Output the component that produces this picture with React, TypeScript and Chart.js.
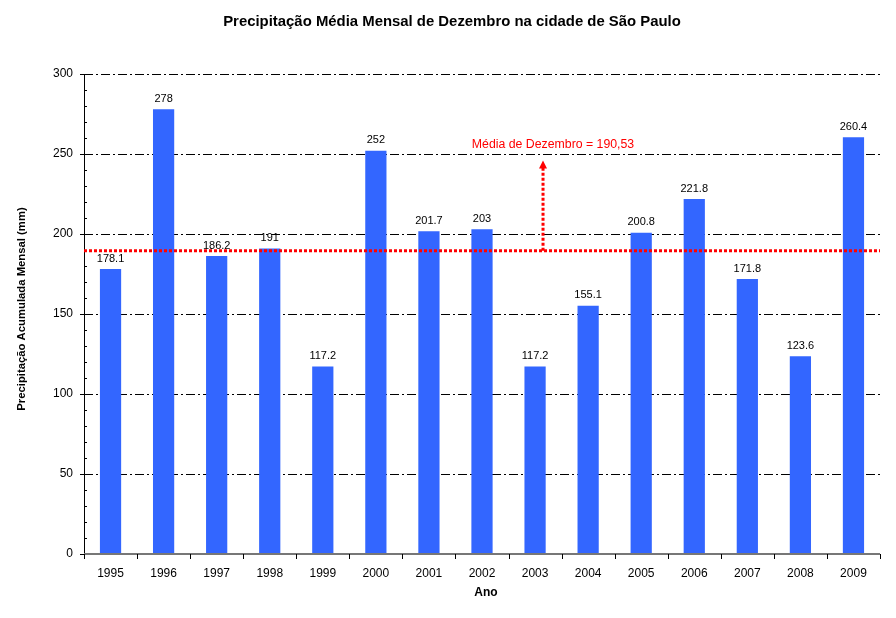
import React, { useEffect, useRef } from "react";
import { Chart, registerables } from "chart.js";
Chart.register(...registerables);

const years = ["1995","1996","1997","1998","1999","2000","2001","2002","2003","2004","2005","2006","2007","2008","2009"];
const precip = [178.1, 278, 186.2, 191, 117.2, 252, 201.7, 203, 117.2, 155.1, 200.8, 221.8, 171.8, 123.6, 260.4];
const average = 190.53;
const averageLabel = "Média de Dezembro = 190,53";
const arrowTopValue = 246;
const arrowCategory = 8.15;
const labelValue = 255.6;
const titleText = "Precipitação Média Mensal de Dezembro na cidade de São Paulo";
const yTitle = "Precipitação Acumulada Mensal (mm)";
const xTitle = "Ano";
const FONT = "'Liberation Sans', Arial, sans-serif";

const decor = {
  id: "decor",
  beforeDatasetsDraw(chart: any) {
    const { ctx, chartArea: a, scales } = chart;
    const y = scales.y;
    ctx.save();
    ctx.strokeStyle = "#000";
    ctx.lineWidth = 1;
    ctx.setLineDash([9, 3, 2, 3]);
    for (let v = 50; v <= 300; v += 50) {
      const py = Math.round(y.getPixelForValue(v)) + 0.5;
      ctx.beginPath();
      ctx.moveTo(a.left, py);
      ctx.lineTo(a.right, py);
      ctx.stroke();
    }
    ctx.setLineDash([]);
    ctx.restore();
  },
  afterDatasetsDraw(chart: any) {
    const { ctx, chartArea: a, scales } = chart;
    const y = scales.y, x = scales.x;
    ctx.save();
    ctx.strokeStyle = "#000";
    ctx.lineWidth = 1;
    ctx.beginPath();
    ctx.moveTo(a.left + 0.5, a.top);
    ctx.lineTo(a.left + 0.5, a.bottom);
    ctx.stroke();
    for (let v = 0; v <= 300; v += 10) {
      const py = Math.round(y.getPixelForValue(v)) + 0.5;
      ctx.beginPath();
      if (v % 50 === 0) {
        ctx.moveTo(a.left - 4, py);
        ctx.lineTo(a.left + 1, py);
      } else {
        ctx.moveTo(a.left, py);
        ctx.lineTo(a.left + 3, py);
      }
      ctx.stroke();
    }
    ctx.strokeStyle = "#777";
    ctx.lineWidth = 2;
    ctx.beginPath();
    ctx.moveTo(a.left, a.bottom);
    ctx.lineTo(a.right, a.bottom);
    ctx.stroke();
    ctx.strokeStyle = "#000";
    ctx.lineWidth = 1;
    const cw = (a.right - a.left) / years.length;
    for (let i = 0; i <= years.length; i++) {
      const px = Math.round(a.left + i * cw) + 0.5;
      ctx.beginPath();
      ctx.moveTo(px, a.bottom);
      ctx.lineTo(px, a.bottom + 5);
      ctx.stroke();
    }
    ctx.fillStyle = "#000";
    ctx.font = `11px ${FONT}`;
    ctx.textAlign = "center";
    ctx.textBaseline = "bottom";
    precip.forEach((v, i) => {
      ctx.fillText(String(v), x.getPixelForValue(i), y.getPixelForValue(v) - 5);
    });
    const ay = y.getPixelForValue(average) + 1.5;
    ctx.strokeStyle = "#ff0000";
    ctx.lineWidth = 3;
    ctx.setLineDash([3, 2]);
    ctx.beginPath();
    ctx.moveTo(a.left, ay);
    ctx.lineTo(a.right, ay);
    ctx.stroke();
    const ax = x.getPixelForValue(8) + (arrowCategory - 8) * cw;
    const topY = y.getPixelForValue(arrowTopValue);
    ctx.beginPath();
    ctx.moveTo(ax, ay);
    ctx.lineTo(ax, topY + 7);
    ctx.stroke();
    ctx.setLineDash([]);
    ctx.fillStyle = "#ff0000";
    ctx.beginPath();
    ctx.moveTo(ax, topY);
    ctx.lineTo(ax - 4, topY + 8);
    ctx.lineTo(ax + 4, topY + 8);
    ctx.closePath();
    ctx.fill();
    ctx.font = `12.3px ${FONT}`;
    ctx.textAlign = "center";
    ctx.textBaseline = "middle";
    ctx.fillText(averageLabel, ax + 10, y.getPixelForValue(labelValue));
    ctx.fillStyle = "#000";
    ctx.font = `bold 14.9px ${FONT}`;
    ctx.fillText(titleText, 452, 22);
    ctx.font = `bold 12px ${FONT}`;
    ctx.fillText(xTitle, (a.left + a.right) / 2 + 4, 593);
    ctx.save();
    ctx.translate(22, (a.top + a.bottom) / 2 - 5);
    ctx.rotate(-Math.PI / 2);
    ctx.font = `bold 11.3px ${FONT}`;
    ctx.fillText(yTitle, 0, 0);
    ctx.restore();
    ctx.restore();
  },
};

export default function App() {
  const ref = useRef<HTMLCanvasElement>(null);
  useEffect(() => {
    document.body.style.margin = "0";
    const chart = new Chart(ref.current!, {
      type: "bar",
      data: {
        labels: years,
        datasets: [
          {
            data: precip,
            backgroundColor: "#3366ff",
            barPercentage: 0.4,
            categoryPercentage: 1,
          },
        ],
      },
      options: {
        animation: false,
        responsive: true,
        maintainAspectRatio: false,
        layout: { padding: { top: 74, right: 16, left: 0, bottom: 0 } },
        plugins: { legend: { display: false }, tooltip: { enabled: false }, title: { display: false } },
        scales: {
          x: {
            grid: { display: false, drawTicks: false },
            border: { display: false },
            ticks: { color: "#000", font: { family: FONT, size: 12 }, padding: 12, maxRotation: 0 },
            afterFit: (s: any) => { s.height = 64; },
          },
          y: {
            min: 0,
            max: 300,
            grid: { display: false, drawTicks: false },
            border: { display: false },
            ticks: { stepSize: 50, color: "#000", font: { family: FONT, size: 12 }, padding: 11 },
            afterFit: (s: any) => { s.width = 84; },
          },
        },
      },
      plugins: [decor],
    });
    return () => chart.destroy();
  }, []);
  return (
    <div style={{ position: "absolute", left: 0, top: 0, width: 896, height: 618 }}>
      <canvas ref={ref} />
    </div>
  );
}
